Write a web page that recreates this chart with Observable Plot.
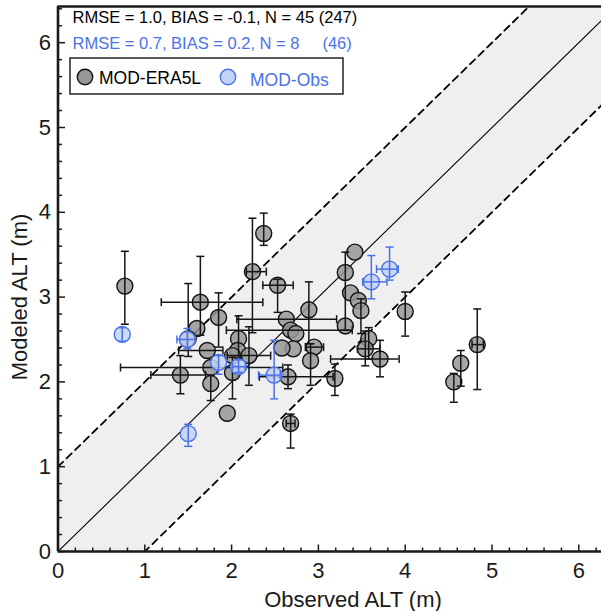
<!DOCTYPE html>
<html><head><meta charset="utf-8">
<script src="https://cdn.jsdelivr.net/npm/d3@7"></script>
<script src="https://cdn.jsdelivr.net/npm/@observablehq/plot@0.6"></script>
<style>body{margin:0;background:#fff;font-family:"Liberation Sans",Arial,sans-serif}</style>
</head><body><div id="chart"></div>
<script>
// MOD-ERA5L: observed, modeled, and error-bar bounds (null = no bar)
const eraX   = [0.77,2.37,2.24,2.53,1.64,1.85,1.60,1.50,2.63,2.68,2.74,2.08,2.07,2.01,2.20,2.01,1.72,1.76,1.76,1.41,1.95,2.71,2.58,2.95,2.91,2.89,2.65,3.19,2.68,3.31,3.42,3.37,3.46,3.49,3.31,4.00,3.58,3.54,3.71,4.64,4.56,4.83];
const eraY   = [3.13,3.75,3.30,3.14,2.94,2.76,2.63,2.51,2.74,2.61,2.57,2.51,2.37,2.31,2.31,2.11,2.37,1.98,2.17,2.08,1.63,2.39,2.40,2.41,2.25,2.85,2.06,2.04,1.51,3.29,3.53,3.05,2.96,2.84,2.66,2.83,2.51,2.39,2.27,2.22,2.00,2.44];
const eraXLo = [null,null,2.17,2.36,1.19,null,null,null,2.06,1.94,null,null,null,1.95,null,null,1.39,null,0.72,1.07,null,null,null,2.85,null,null,2.32,null,2.63,null,null,null,null,null,null,null,null,3.45,3.14,null,null,4.77];
const eraXHi = [null,null,2.40,2.71,2.36,null,null,null,3.21,3.39,null,null,null,2.45,null,null,1.90,null,2.59,1.70,null,null,null,3.06,null,null,3.17,null,2.73,null,null,null,null,null,null,null,null,3.71,3.93,null,null,4.90];
const eraYLo = [2.68,3.61,2.58,2.82,2.55,2.41,null,2.30,null,null,null,2.28,null,null,1.96,1.80,null,1.78,null,1.86,null,null,null,null,1.96,2.45,1.92,1.84,1.22,2.61,null,null,null,2.57,null,2.54,2.27,2.19,2.06,1.95,1.76,1.91];
const eraYHi = [3.54,3.99,3.93,3.21,3.48,3.05,null,3.16,null,null,null,2.78,null,null,2.65,2.29,null,2.08,null,2.31,null,null,null,null,2.45,3.18,2.20,2.21,1.62,3.53,null,null,null,2.98,null,3.06,2.64,2.60,2.49,2.37,2.10,2.86];

// MOD-Obs
const obsX   = [0.74,1.49,1.85,2.08,2.49,1.50,3.61,3.82];
const obsY   = [2.56,2.50,2.23,2.18,2.08,1.39,3.18,3.33];
const obsXLo = [null,1.37,null,2.01,2.31,null,3.51,3.67];
const obsXHi = [null,1.58,null,2.16,2.56,null,3.79,3.92];
const obsYLo = [2.48,2.39,2.09,2.11,1.80,1.24,2.98,3.20];
const obsYHi = [2.64,2.63,2.31,2.26,2.49,1.50,3.49,3.59];

const xTicks = [0,1,2,3,4,5,6];
const yTicks = [0,1,2,3,4,5,6];
const statsEra = "RMSE = 1.0, BIAS = -0.1, N = 45 (247)";
const statsObs = "RMSE = 0.7, BIAS = 0.2, N = 8\u00a0\u00a0\u00a0\u00a0 (46)";

const W = 601, H = 611, mL = 57.5, mT = 6, mB = 60, mR = 0;
const xMax = (W - mL - mR) / 86.8, yMax = (H - mT - mB) / 84.8;

function rows(X, Y, XL, XH, YL, YH) {
  return X.map((x, i) => ({x, y: Y[i], xlo: XL[i], xhi: XH[i], ylo: YL[i], yhi: YH[i]}));
}
const era = rows(eraX, eraY, eraXLo, eraXHi, eraYLo, eraYHi);
const obs = rows(obsX, obsY, obsXLo, obsXHi, obsYLo, obsYHi);

const capH = {draw(c, s) { const r = Math.sqrt(s / Math.PI); c.moveTo(-r, 0); c.lineTo(r, 0); }};
const capV = {draw(c, s) { const r = Math.sqrt(s / Math.PI); c.moveTo(0, -r); c.lineTo(0, r); }};
const tickUp = {draw(c, s) { const r = Math.sqrt(s / Math.PI); c.moveTo(0, 0); c.lineTo(0, -r); }};
const tickRight = {draw(c, s) { const r = Math.sqrt(s / Math.PI); c.moveTo(0, 0); c.lineTo(r, 0); }};

function errMarks(data, color) {
  const yb = data.filter(d => d.ylo != null);
  const xb = data.filter(d => d.xlo != null);
  const capsY = yb.flatMap(d => [{x: d.x, y: d.ylo}, {x: d.x, y: d.yhi}]);
  const capsX = xb.flatMap(d => [{x: d.xlo, y: d.y}, {x: d.xhi, y: d.y}]);
  return [
    Plot.ruleX(yb, {x: "x", y1: "ylo", y2: "yhi", stroke: color, strokeWidth: 1.5}),
    Plot.ruleY(xb, {y: "y", x1: "xlo", x2: "xhi", stroke: color, strokeWidth: 1.5}),
    Plot.dot(capsY, {x: "x", y: "y", symbol: capH, r: 4, stroke: color, strokeWidth: 1.5, fill: "none"}),
    Plot.dot(capsX, {x: "x", y: "y", symbol: capV, r: 4, stroke: color, strokeWidth: 1.5, fill: "none"})
  ];
}

const refX = [0, 7];
const minorX = d3.range(0, 6.3, 0.2).filter(v => Math.abs(v - Math.round(v)) > 1e-6);
const minorY = d3.range(0, 6.5, 0.2).filter(v => Math.abs(v - Math.round(v)) > 1e-6);
const fmt = d => String(d);

const chart = Plot.plot({
  width: W, height: H,
  marginLeft: mL, marginTop: mT, marginBottom: mB, marginRight: mR,
  style: {fontFamily: "'Liberation Sans', Arial, sans-serif", fontSize: "22px", color: "#1a1a1a", background: "#fff"},
  x: {domain: [0, xMax]},
  y: {domain: [0, yMax]},
  marks: [
    Plot.areaY(refX, {x: d => d, y1: d => d - 1, y2: d => d + 1, fill: "#efefef", clip: true}),
    Plot.line(refX, {x: d => d, y: d => d, stroke: "#000", strokeWidth: 1.1, clip: true}),
    Plot.line(refX, {x: d => d, y: d => d + 1, stroke: "#000", strokeWidth: 1.8, strokeDasharray: "7,5", clip: true}),
    Plot.line(refX, {x: d => d, y: d => d - 1, stroke: "#000", strokeWidth: 1.8, strokeDasharray: "7,5", clip: true}),
    Plot.dot(era, {x: "x", y: "y", r: 8, fill: "#979797", fillOpacity: 0.85, stroke: "#111", strokeWidth: 1.4}),
    ...errMarks(era, "#151515"),
    Plot.dot(obs, {x: "x", y: "y", r: 8, fill: "#c3d2f7", fillOpacity: 0.85, stroke: "#4a72e8", strokeWidth: 1.4}),
    ...errMarks(obs, "#4a72e8"),
    Plot.ruleX([0], {stroke: "#1a1a1a", strokeWidth: 2.6}),
    Plot.ruleY([0], {stroke: "#1a1a1a", strokeWidth: 2.6}),
    Plot.ruleY([yMax], {stroke: "#1a1a1a", strokeWidth: 2.6}),
    Plot.dot(xTicks, {x: d => d, y: 0, symbol: tickUp, r: 7, stroke: "#1a1a1a", strokeWidth: 1.5}),
    Plot.dot(minorX, {x: d => d, y: 0, symbol: tickUp, r: 4, stroke: "#1a1a1a", strokeWidth: 1.5}),
    Plot.dot(yTicks, {y: d => d, x: 0, symbol: tickRight, r: 7, stroke: "#1a1a1a", strokeWidth: 1.5}),
    Plot.dot(minorY, {y: d => d, x: 0, symbol: tickRight, r: 4, stroke: "#1a1a1a", strokeWidth: 1.5}),
    Plot.axisX(xTicks, {tickSize: 0, tickPadding: 11, label: null, fontSize: 22, tickFormat: fmt}),
    Plot.axisY(yTicks, {tickSize: 0, tickPadding: 7, label: null, fontSize: 22, tickFormat: fmt}),
    Plot.text([statsEra], {frameAnchor: "top-left", dx: 14.5, dy: 11, text: d => d, textAnchor: "start", lineAnchor: "middle", fontSize: 16.5, fill: "#000"}),
    Plot.text([statsObs], {frameAnchor: "top-left", dx: 14.5, dy: 37, text: d => d, textAnchor: "start", lineAnchor: "middle", fontSize: 16.5, fill: "#4a72e8"})
  ]
});

const svg = d3.select(chart);
svg.append("text").attr("x", 353).attr("y", 599).attr("text-anchor", "middle").attr("dominant-baseline", "central")
  .attr("font-size", 22).attr("fill", "#1a1a1a").text("Observed ALT (m)");
svg.append("text").attr("transform", "translate(19,297) rotate(-90)").attr("text-anchor", "middle").attr("dominant-baseline", "central")
  .attr("font-size", 22).attr("fill", "#1a1a1a").text("Modeled ALT (m)");
const lg = svg.append("g").attr("text-anchor", "start");
lg.append("rect").attr("x", 70).attr("y", 58).attr("width", 273).attr("height", 36).attr("fill", "#fff").attr("stroke", "#000").attr("stroke-width", 1.3);
lg.append("circle").attr("cx", 85).attr("cy", 77).attr("r", 7.7).attr("fill", "#979797").attr("stroke", "#111").attr("stroke-width", 1.4);
lg.append("text").attr("x", 99).attr("y", 78).attr("text-anchor", "start").attr("dominant-baseline", "central").attr("font-size", 17.5).attr("fill", "#000").text("MOD-ERA5L");
lg.append("circle").attr("cx", 228).attr("cy", 77).attr("r", 7.7).attr("fill", "#c3d2f7").attr("stroke", "#4a72e8").attr("stroke-width", 1.4);
lg.append("text").attr("x", 250).attr("y", 80).attr("text-anchor", "start").attr("dominant-baseline", "central").attr("font-size", 17.5).attr("fill", "#4a72e8").text("MOD-Obs");

document.getElementById("chart").appendChild(chart);
</script></body></html>
